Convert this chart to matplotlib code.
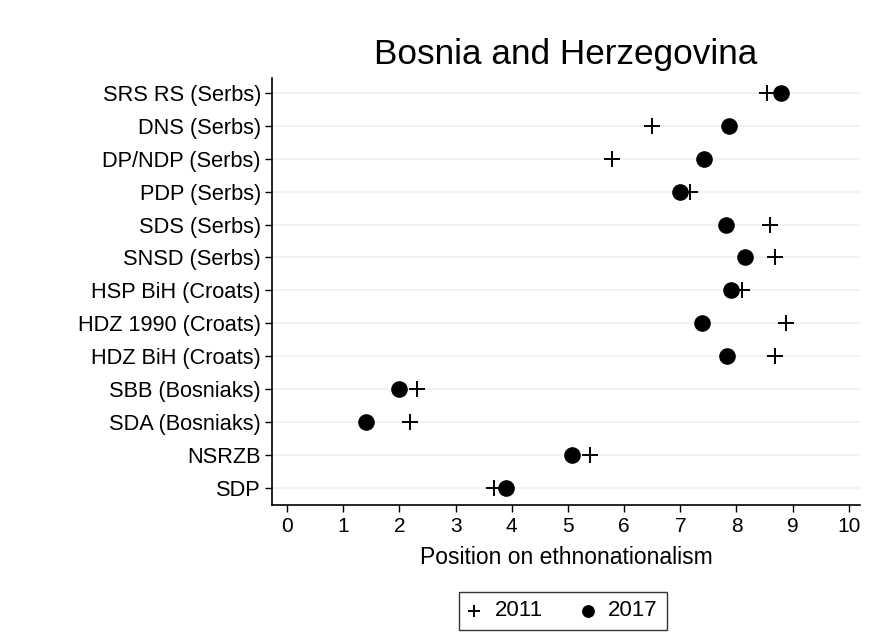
import matplotlib.pyplot as plt

plt.rcParams['font.family'] = ['Liberation Sans', 'DejaVu Sans']

parties = ['SRS RS (Serbs)', 'DNS (Serbs)', 'DP/NDP (Serbs)', 'PDP (Serbs)', 'SDS (Serbs)',
           'SNSD (Serbs)', 'HSP BiH (Croats)', 'HDZ 1990 (Croats)', 'HDZ BiH (Croats)',
           'SBB (Bosniaks)', 'SDA (Bosniaks)', 'NSRZB', 'SDP']
pos_2011 = [8.54, 6.50, 5.79, 7.18, 8.59, 8.69, 8.10, 8.89, 8.68, 2.32, 2.18, 5.39, 3.68]
pos_2017 = [8.80, 7.87, 7.43, 7.00, 7.81, 8.16, 7.90, 7.39, 7.83, 1.99, 1.40, 5.07, 3.89]
xticks = list(range(0, 11))

fig = plt.figure(figsize=(8.77, 6.42), dpi=100)
ax = fig.add_axes([272 / 877, 1 - 505 / 642, (860 - 272) / 877, (505 - 78) / 642])

n = len(parties)
ypos = [n - 1 - i for i in range(n)]

for y in ypos:
    ax.axhline(y, color='#eaf2f3', lw=1.2, zorder=0)

ax.scatter(pos_2011, ypos, marker='+', s=140, color='black', linewidths=1.4, label='2011', zorder=3)
ax.scatter(pos_2017, ypos, marker='o', s=120, color='black', label='2017', zorder=3)

ax.set_xlim(-0.27, 10.2)
ax.set_ylim(-0.52, 12.45)
ax.set_yticks(ypos)
ax.set_yticklabels(parties, fontsize=15.7)
ax.set_xticks(xticks)
ax.set_xticklabels([str(t) for t in xticks], fontsize=15)
ax.tick_params(axis='both', length=5, width=1, color='black')
ax.tick_params(axis='y', pad=3)
ax.tick_params(axis='x', pad=4)

for side in ['top', 'right']:
    ax.spines[side].set_visible(False)
for side in ['left', 'bottom']:
    ax.spines[side].set_linewidth(1.2)

ax.set_xlabel('Position on ethnonationalism', fontsize=16.5, labelpad=7)
fig.text(0.645, 0.915, 'Bosnia and Herzegovina', fontsize=25.3, ha='center', va='center')

leg = fig.legend(loc='center', bbox_to_anchor=(563 / 877, 1 - 611 / 642), ncol=2, fontsize=16,
                 frameon=True, fancybox=False, edgecolor='black', handletextpad=0.65,
                 handlelength=0.55, columnspacing=1.75, borderpad=0.4, markerscale=0.75)
leg.get_frame().set_linewidth(1)

fig.savefig('out.png', dpi=100)
